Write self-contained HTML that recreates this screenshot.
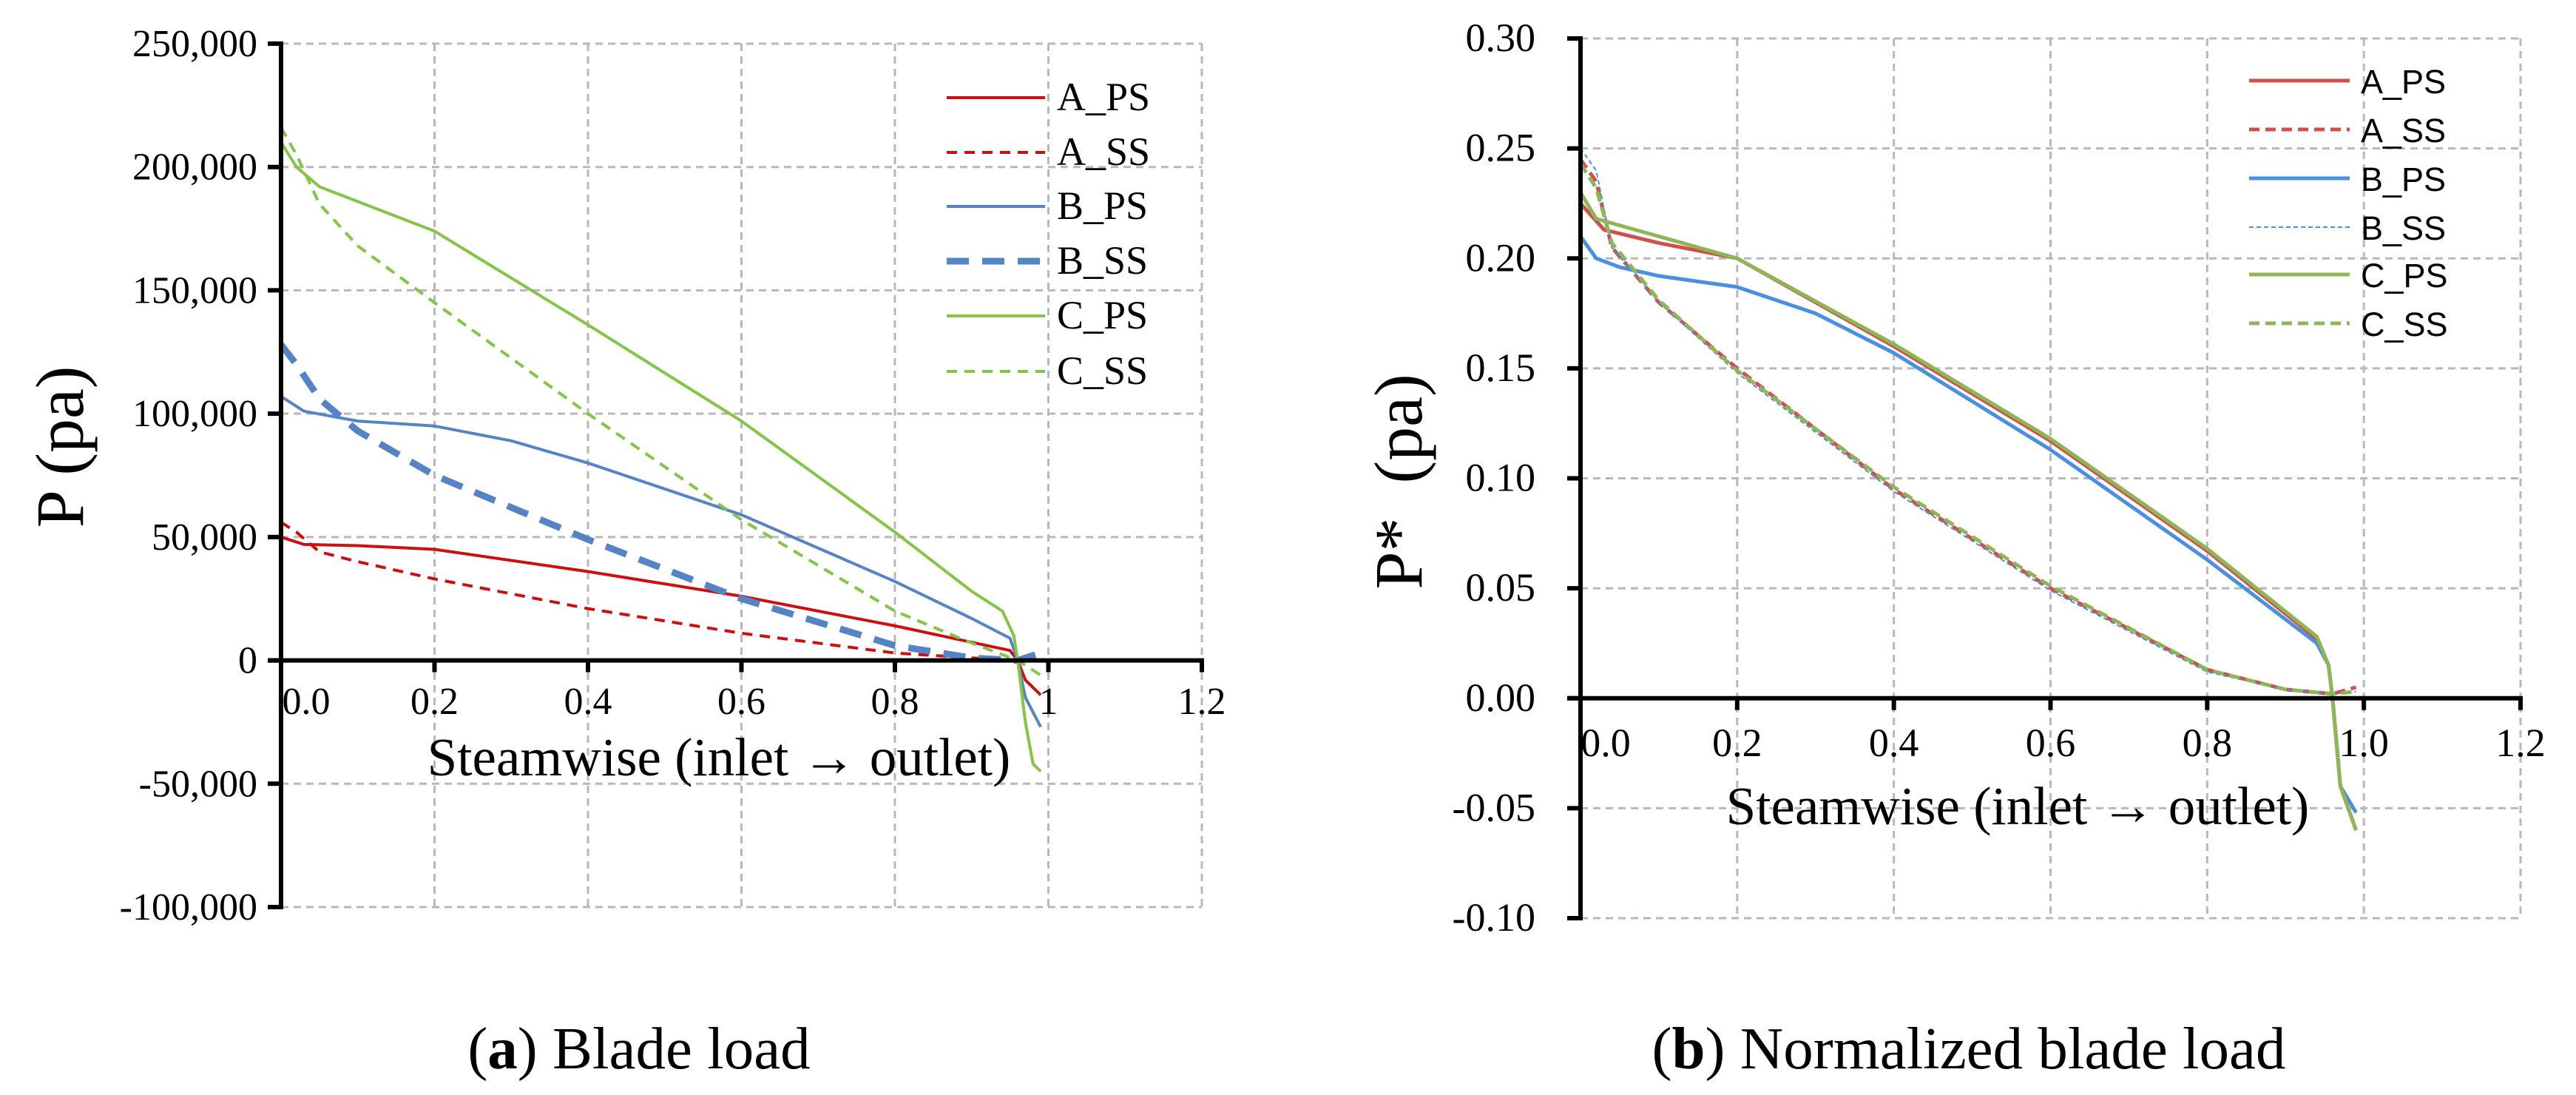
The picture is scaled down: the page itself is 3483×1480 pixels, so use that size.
<!DOCTYPE html>
<html><head><meta charset="utf-8"><style>
html,body{margin:0;padding:0;background:#fff;}
svg{display:block;}
text{font-family:"Liberation Serif",serif;fill:#000;}
</style></head>
<body>
<svg id="fig" width="3483" height="1480" viewBox="0 0 3483 1480" xmlns="http://www.w3.org/2000/svg">
<rect width="3483" height="1480" fill="#fff"/>
<g id="left"></g>
<g id="right"></g>
<text x="0" y="0" transform="translate(112,604) rotate(-90)" text-anchor="middle" font-size="92">P (pa)</text>
<text x="972" y="1048" text-anchor="middle" font-size="73">Steamwise (inlet → outlet)</text>
<text x="864" y="1444" text-anchor="middle" font-size="81">(<tspan font-weight="bold">a</tspan>) Blade load</text>
<text x="0" y="0" transform="translate(1922,651) rotate(-90)" text-anchor="middle" font-size="92" xml:space="preserve">P*  (pa)</text>
<text x="2728" y="1114" text-anchor="middle" font-size="73">Steamwise (inlet → outlet)</text>
<text x="2662" y="1444" text-anchor="middle" font-size="81">(<tspan font-weight="bold">b</tspan>) Normalized blade load</text>
</svg>
<script>
// ---- Left chart data ----
const xTicksL = [0, 0.2, 0.4, 0.6, 0.8, 1.0, 1.2];
const xTickLabelsL = ["0.0", "0.2", "0.4", "0.6", "0.8", "1", "1.2"];
const yTicksL = [250000, 200000, 150000, 100000, 50000, 0, -50000, -100000];
const yTickLabelsL = ["250,000", "200,000", "150,000", "100,000", "50,000", "0", "-50,000", "-100,000"];
const seriesNamesL = ["A_PS", "A_SS", "B_PS", "B_SS", "C_PS", "C_SS"];
const L_A_PS_x = [0, 0.03, 0.1, 0.2, 0.4, 0.6, 0.8, 0.95, 0.96, 0.97, 0.99];
const L_A_PS_y = [50000, 47000, 46500, 45000, 36000, 26000, 14000, 4000, 0, -8000, -14000];
const L_A_SS_x = [0, 0.02, 0.05, 0.1, 0.2, 0.4, 0.6, 0.8, 0.9, 0.96, 0.99];
const L_A_SS_y = [56000, 52000, 44000, 40000, 33000, 21000, 11000, 3000, 1000, 0, 2000];
const L_B_PS_x = [0, 0.03, 0.1, 0.2, 0.3, 0.4, 0.6, 0.8, 0.9, 0.95, 0.96, 0.97, 0.99];
const L_B_PS_y = [107000, 101000, 97000, 95000, 89000, 80000, 59000, 32000, 17000, 9000, 0, -15000, -27000];
const L_B_SS_x = [0, 0.02, 0.05, 0.1, 0.2, 0.4, 0.6, 0.8, 0.9, 0.96, 0.99];
const L_B_SS_y = [128000, 120000, 106000, 93000, 75000, 49000, 25000, 6000, 1000, 0, 3000];
const L_C_PS_x = [0, 0.02, 0.05, 0.1, 0.2, 0.4, 0.6, 0.8, 0.9, 0.94, 0.955, 0.96, 0.97, 0.98, 0.99];
const L_C_PS_y = [210000, 200000, 192000, 186000, 174000, 136000, 97000, 52000, 28000, 20000, 10000, 0, -25000, -42000, -45000];
const L_C_SS_x = [0, 0.02, 0.05, 0.1, 0.2, 0.4, 0.6, 0.8, 0.9, 0.96, 0.99];
const L_C_SS_y = [216000, 205000, 185000, 168000, 145000, 100000, 57000, 20000, 7000, 0, -6000];

// ---- Right chart data ----
const xTicksR = [0, 0.2, 0.4, 0.6, 0.8, 1.0, 1.2];
const xTickLabelsR = ["0.0", "0.2", "0.4", "0.6", "0.8", "1.0", "1.2"];
const yTicksR = [0.30, 0.25, 0.20, 0.15, 0.10, 0.05, 0.00, -0.05, -0.10];
const yTickLabelsR = ["0.30", "0.25", "0.20", "0.15", "0.10", "0.05", "0.00", "-0.05", "-0.10"];
const seriesNamesR = ["A_PS", "A_SS", "B_PS", "B_SS", "C_PS", "C_SS"];
const R_A_PS_x = [0, 0.03, 0.1, 0.2, 0.4, 0.6, 0.8, 0.94, 0.955, 0.96, 0.97, 0.99];
const R_A_PS_y = [0.225, 0.213, 0.207, 0.200, 0.160, 0.117, 0.067, 0.027, 0.015, 0, -0.04, -0.06];
const R_A_SS_x = [0, 0.02, 0.04, 0.1, 0.2, 0.4, 0.6, 0.8, 0.9, 0.96, 0.99];
const R_A_SS_y = [0.245, 0.235, 0.205, 0.18, 0.15, 0.095, 0.05, 0.013, 0.004, 0.002, 0.005];
const R_B_PS_x = [0, 0.02, 0.05, 0.1, 0.2, 0.3, 0.4, 0.6, 0.8, 0.94, 0.955, 0.96, 0.97, 0.99];
const R_B_PS_y = [0.21, 0.2, 0.196, 0.192, 0.187, 0.175, 0.157, 0.113, 0.063, 0.025, 0.015, 0, -0.04, -0.052];
const R_B_SS_x = [0, 0.02, 0.04, 0.1, 0.2, 0.4, 0.6, 0.8, 0.9, 0.96, 0.99];
const R_B_SS_y = [0.25, 0.24, 0.205, 0.18, 0.148, 0.094, 0.049, 0.012, 0.004, 0.002, 0.003];
const R_C_PS_x = [0, 0.02, 0.1, 0.2, 0.4, 0.6, 0.8, 0.94, 0.955, 0.96, 0.97, 0.99];
const R_C_PS_y = [0.23, 0.218, 0.21, 0.2, 0.161, 0.118, 0.068, 0.028, 0.015, 0, -0.04, -0.06];
const R_C_SS_x = [0, 0.02, 0.04, 0.1, 0.2, 0.4, 0.6, 0.8, 0.9, 0.96, 0.99];
const R_C_SS_y = [0.243, 0.232, 0.207, 0.181, 0.149, 0.096, 0.051, 0.013, 0.004, 0.002, 0.003];

const NS = "http://www.w3.org/2000/svg";
function mk(tag, attrs, parent) {
  const e = document.createElementNS(NS, tag);
  for (const k in attrs) e.setAttribute(k, attrs[k]);
  parent.appendChild(e);
  return e;
}

function drawChart(g, cfg) {
  const sx = v => cfg.x0 + (v - cfg.xmin) / (cfg.xmax - cfg.xmin) * (cfg.x1 - cfg.x0);
  const sy = v => cfg.yTop + (cfg.ymax - v) / (cfg.ymax - cfg.ymin) * (cfg.yBot - cfg.yTop);
  cfg.yTicks.forEach(v => {
    if (v === 0) return;
    const l = mk("line", {x1: sx(cfg.xmin), x2: sx(cfg.xmax), y1: sy(v), y2: sy(v), stroke: "#b8b8b8", "stroke-width": 3, "stroke-dasharray": "10 7"}, g);
    
    
  });
  cfg.xTicks.forEach(v => {
    if (v === 0) return;
    const l = mk("line", {x1: sx(v), x2: sx(v), y1: sy(cfg.ymax), y2: sy(cfg.ymin), stroke: "#b8b8b8", "stroke-width": 3, "stroke-dasharray": "10 7"}, g);
    
    
  });
  cfg.series.forEach(s => {
    const pts = s.x.map((xv, i) => sx(xv).toFixed(1) + "," + sy(s.y[i]).toFixed(1)).join(" ");
    const p = mk("polyline", {points: pts, fill: "none", stroke: s.color, "stroke-width": s.w, "stroke-dasharray": s.dash || "none", "stroke-linejoin": "round"}, g);
    
    
  });
  const ya = mk("line", {x1: sx(0), x2: sx(0), y1: sy(cfg.ymax) - 3, y2: sy(cfg.ymin) + 3, stroke: "#000", "stroke-width": 6}, g);
  
  
  const xa = mk("line", {x1: sx(0) - 18, x2: sx(cfg.xmax) + 3, y1: sy(0), y2: sy(0), stroke: "#000", "stroke-width": 6}, g);
  
  
  cfg.yTicks.forEach((v, i) => {
    const t = mk("line", {x1: sx(0) - 18, x2: sx(0), y1: sy(v), y2: sy(v), stroke: "#000", "stroke-width": 6}, g);
    
    
    const tx = mk("text", {x: cfg.yLabelX, y: sy(v) + 17, "text-anchor": "end", "font-size": cfg.tickFont}, g);
    tx.textContent = cfg.yLabels[i];
    
    
  });
  cfg.xTicks.forEach((v, i) => {
    if (v !== 0) {
      const t = mk("line", {x1: sx(v), x2: sx(v), y1: sy(0), y2: sy(0) + 16, stroke: "#000", "stroke-width": 6}, g);
      
      
    }
    const tx = mk("text", {x: v === 0 ? sx(v) + 34 : sx(v), y: cfg.xLabelY, "text-anchor": "middle", "font-size": cfg.tickFont}, g);
    tx.textContent = cfg.xLabels[i];
    
    
  });
  cfg.series.forEach((s, i) => {
    const y = cfg.legY[i];
    const l = mk("line", {x1: cfg.legX0, x2: cfg.legX1, y1: y, y2: y, stroke: s.color, "stroke-width": s.w, "stroke-dasharray": s.dash || "none"}, g);
    
    
    const tx = mk("text", {x: cfg.legTX, y: y + 17, "font-size": cfg.legFont, style: "font-family:" + cfg.legFamily}, g);
    tx.textContent = s.name;
    
    
  });
}

const red = "#cc1010", blue = "#5584c4", green = "#84c446";
drawChart(document.getElementById("left"), {
  x0: 380, x1: 1625, xmin: 0, xmax: 1.2, yTop: 59, yBot: 1226, ymax: 250000, ymin: -100000,
  xTicks: xTicksL, xLabels: xTickLabelsL, yTicks: yTicksL, yLabels: yTickLabelsL,
  yLabelX: 348, xLabelY: 965, tickFont: 52,
  legX0: 1280, legX1: 1413, legTX: 1429, legY: [132, 206, 279, 353, 427, 502], legFont: 54,
  legFamily: '"Liberation Serif",serif',
  series: [
    {name: seriesNamesL[0], x: L_A_PS_x, y: L_A_PS_y, color: red, w: 4},
    {name: seriesNamesL[1], x: L_A_SS_x, y: L_A_SS_y, color: red, w: 4, dash: "14 10"},
    {name: seriesNamesL[2], x: L_B_PS_x, y: L_B_PS_y, color: blue, w: 4},
    {name: seriesNamesL[3], x: L_B_SS_x, y: L_B_SS_y, color: blue, w: 9, dash: "30 18"},
    {name: seriesNamesL[4], x: L_C_PS_x, y: L_C_PS_y, color: green, w: 4},
    {name: seriesNamesL[5], x: L_C_SS_x, y: L_C_SS_y, color: green, w: 4, dash: "14 10"}
  ]
});
const red2 = "#d0504d", blue2 = "#4a8fe0", green2 = "#8fb654";
drawChart(document.getElementById("right"), {
  x0: 2137, x1: 3408, xmin: 0, xmax: 1.2, yTop: 52, yBot: 1241, ymax: 0.30, ymin: -0.10,
  xTicks: xTicksR, xLabels: xTickLabelsR, yTicks: yTicksR, yLabels: yTickLabelsR,
  yLabelX: 2076, xLabelY: 1022, tickFont: 54,
  legX0: 3041, legX1: 3177, legTX: 3192, legY: [109, 175, 241, 307, 371, 437], legFont: 45,
  legFamily: '"Liberation Sans",sans-serif',
  series: [
    {name: seriesNamesR[0], x: R_A_PS_x, y: R_A_PS_y, color: red2, w: 5},
    {name: seriesNamesR[1], x: R_A_SS_x, y: R_A_SS_y, color: red2, w: 5, dash: "14 8"},
    {name: seriesNamesR[2], x: R_B_PS_x, y: R_B_PS_y, color: blue2, w: 5},
    {name: seriesNamesR[3], x: R_B_SS_x, y: R_B_SS_y, color: blue2, w: 2, dash: "6 4"},
    {name: seriesNamesR[4], x: R_C_PS_x, y: R_C_PS_y, color: green2, w: 5},
    {name: seriesNamesR[5], x: R_C_SS_x, y: R_C_SS_y, color: green2, w: 5, dash: "14 8"}
  ]
});
</script>
</body></html>
